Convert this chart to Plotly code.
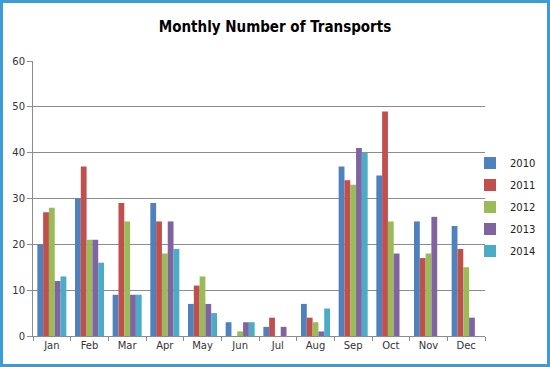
import plotly.graph_objects as go

months = ["Jan", "Feb", "Mar", "Apr", "May", "Jun", "Jul", "Aug", "Sep", "Oct", "Nov", "Dec"]
years = ["2010", "2011", "2012", "2013", "2014"]
v2010 = [20, 30, 9, 29, 7, 3, 2, 7, 37, 35, 25, 24]
v2011 = [27, 37, 29, 25, 11, 0, 4, 4, 34, 49, 17, 19]
v2012 = [28, 21, 25, 18, 13, 1, 0, 3, 33, 25, 18, 15]
v2013 = [12, 21, 9, 25, 7, 3, 2, 1, 41, 18, 26, 4]
v2014 = [13, 16, 9, 19, 5, 3, 0, 6, 40, 0, 0, 0]
series = [v2010, v2011, v2012, v2013, v2014]
colors = ["#4F81BD", "#C0504D", "#9BBB59", "#8064A2", "#4BACC6"]

W, H = 550, 367
L, R, T, B = 33, 65, 61, 31

fig = go.Figure()
for name, vals, c in zip(years, series, colors):
    fig.add_trace(go.Bar(x=months, y=vals, name=name, legendgroup=name,
                         marker=dict(color=c, line=dict(width=0))))

pw = W - L - R
ph = H - T - B
def px(x):
    return (x - L) / pw
def py(y):
    return (H - B - y) / ph

fig.add_shape(type="rect", xref="paper", yref="paper",
              x0=px(1.5), x1=px(W - 1.5), y0=py(H - 1.5), y1=py(1.5),
              line=dict(color="#3E9BD3", width=3), fillcolor="rgba(0,0,0,0)")

fig.update_layout(
    width=W, height=H,
    margin=dict(l=L, r=R, t=T, b=B, autoexpand=False),
    paper_bgcolor="white", plot_bgcolor="white",
    barmode="group", bargap=0.23, bargroupgap=0,
    title=dict(text="<b>Monthly Number of Transports</b>", x=0.5, xanchor="center",
               xref="container", y=1 - 27 / H, yanchor="middle",
               font=dict(family="DejaVu Sans Condensed, DejaVu Sans, sans-serif", size=15, color="black")),
    font=dict(family="DejaVu Sans, Verdana, sans-serif", size=10, color="#333333"),
    legend=dict(x=px(470), xanchor="left", y=py(207), yanchor="middle",
                font=dict(size=10, color="#222222"), itemwidth=30, tracegroupgap=3,
                bgcolor="rgba(0,0,0,0)"),
    showlegend=True,
)
fig.update_yaxes(range=[0, 60], dtick=10, showgrid=True, gridcolor="#8C8C8C", gridwidth=1,
                 showline=True, linecolor="#8C8C8C", ticks="outside", ticklen=5, tickcolor="#8C8C8C",
                 zeroline=False, automargin=False, tickfont=dict(size=10, color="#333333"))
fig.update_xaxes(showline=True, linecolor="#8C8C8C", ticks="outside", ticklen=4, tickcolor="#8C8C8C",
                 tickson="boundaries", showgrid=False, automargin=False, tickfont=dict(size=10, color="#333333"))

fig.write_html("out.html", config={"displayModeBar": False},
               post_script="document.body.style.margin='0';document.body.style.overflow='hidden';")
